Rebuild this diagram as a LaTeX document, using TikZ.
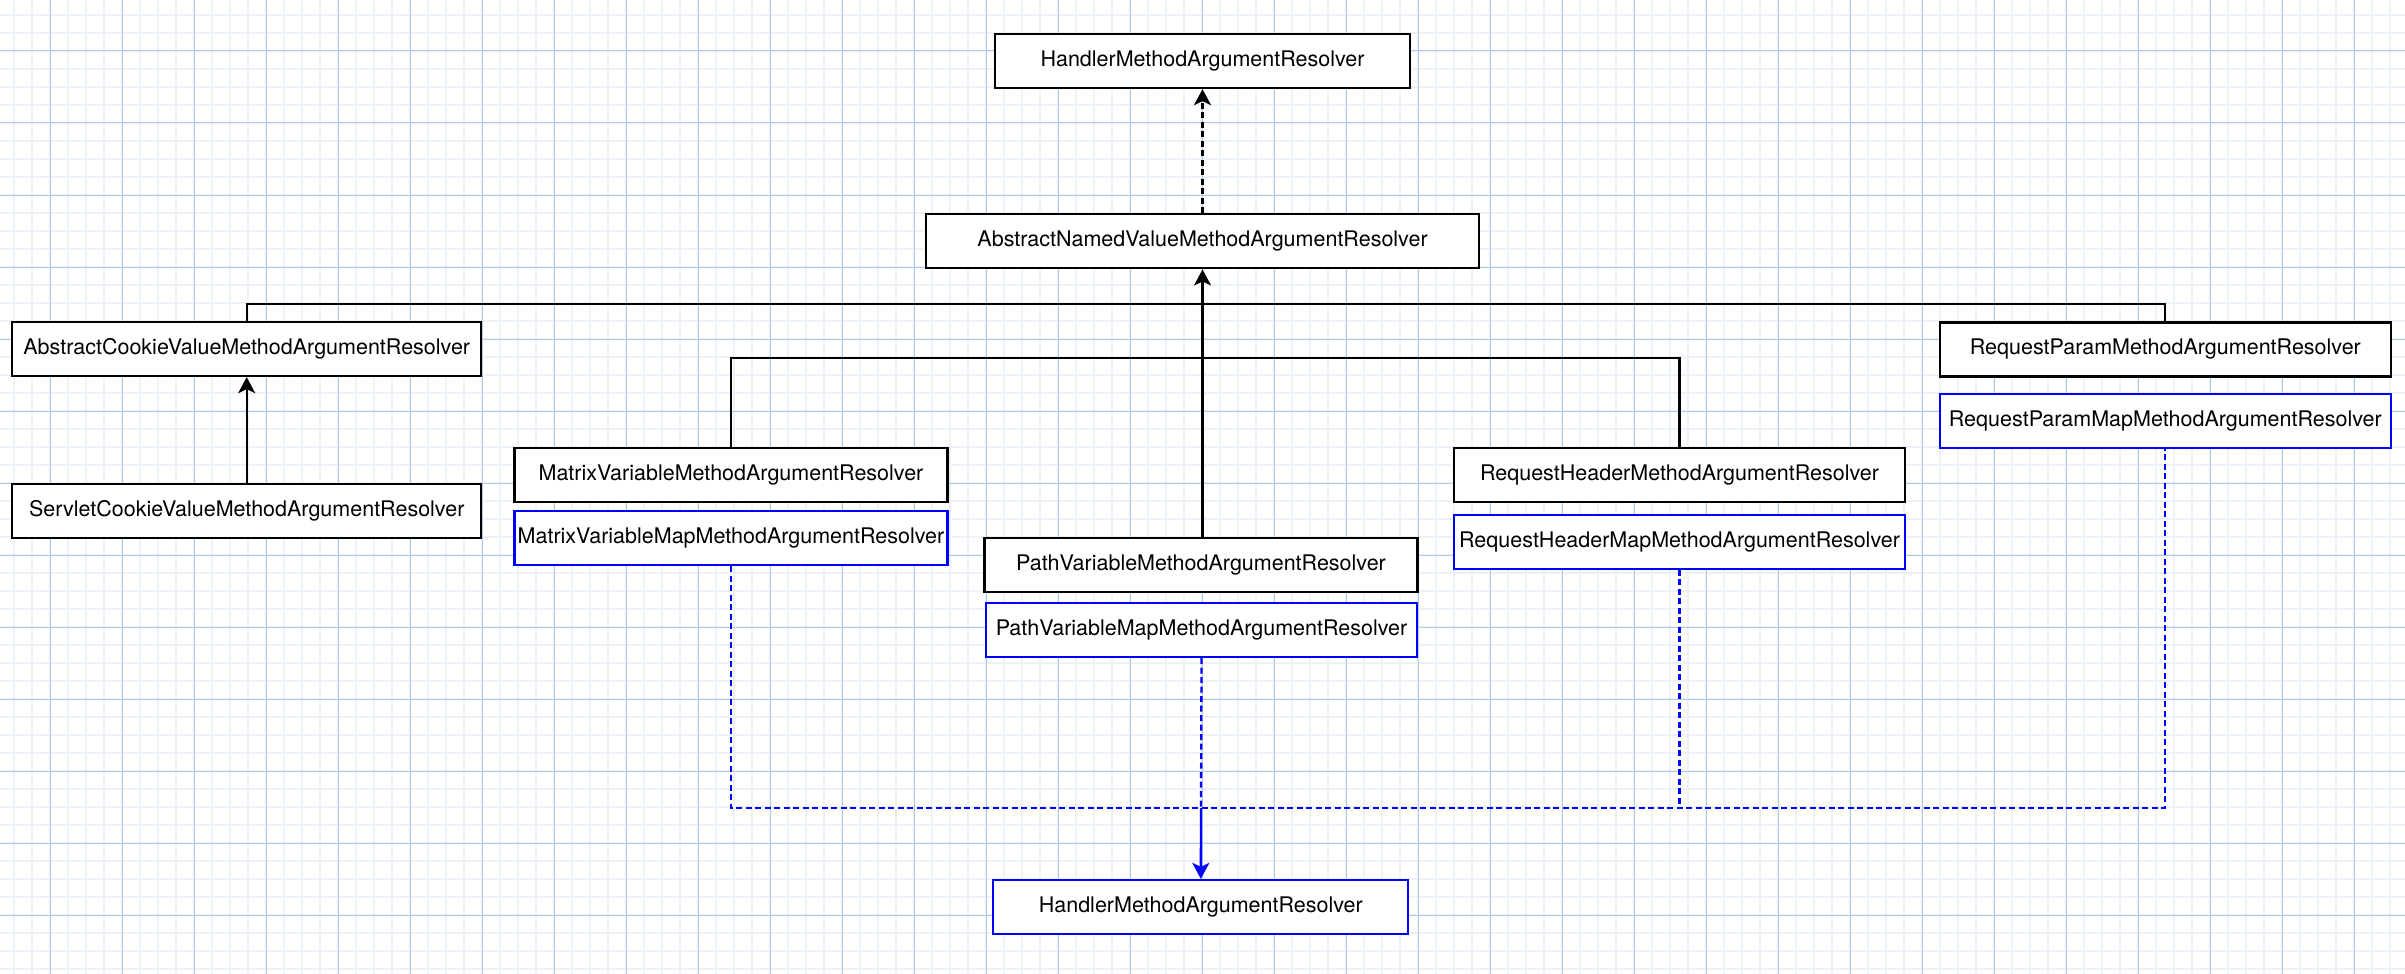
\documentclass[tikz,border=0pt]{standalone}
\usepackage{fontspec}
\setmainfont{TeX Gyre Heros}
\usetikzlibrary{arrows.meta}
\definecolor{gridmajor}{HTML}{B0C8EC}
\definecolor{gridminor}{HTML}{EDF2F9}
\definecolor{umlblue}{HTML}{0000FF}
\begin{document}
\begin{tikzpicture}[x=0.5pt,y=-0.5pt,
  box/.style={draw=black, line width=1.15pt, fill=white, inner sep=0pt, minimum height=27pt,
    font=\fontsize{10.75pt}{12pt}\selectfont, text=black},
  bbox/.style={box, draw=umlblue},
  conn/.style={line width=1.15pt, draw=black},
  bconn/.style={line width=1.15pt, draw=umlblue},
  tip/.style={-{Stealth[length=8pt,width=8.5pt,inset=2pt]}},
  dsh/.style={dash pattern=on 3pt off 1.75pt}
]
% background and grid
\fill[white] (0,0) rectangle (2405,974);
\useasboundingbox (0,0) rectangle (2405,974);
\foreach \k in {0,...,133} {\draw[gridminor, line width=0.75pt] ({14+18*\k},0) -- ({14+18*\k},974);}
\foreach \k in {0,...,53} {\draw[gridminor, line width=0.75pt] (0,{15+18*\k}) -- (2405,{15+18*\k});}
\foreach \k in {0,...,32} {\draw[gridmajor, line width=0.5pt] ({50+72*\k},0) -- ({50+72*\k},974);}
\foreach \k in {0,...,12} {\draw[gridmajor, line width=0.5pt] (0,{51+72*\k}) -- (2405,{51+72*\k});}

% nodes
\node[box, minimum width=207.5pt] (HT) at (1202.5,61) {HandlerMethodArgumentResolver};
\node[box, minimum width=276.5pt] (AN) at (1202.5,241.3) {AbstractNamedValueMethodArgumentResolver};
\node[box, minimum width=234.4pt] (AC) at (246.7,349) {AbstractCookieValueMethodArgumentResolver};
\node[box, minimum width=234.4pt] (SC) at (246.7,511.3) {ServletCookieValueMethodArgumentResolver};
\node[box, minimum width=216.4pt] (MV) at (731,475) {MatrixVariableMethodArgumentResolver};
\node[bbox, minimum width=216.4pt] (MM) at (731,538.3) {MatrixVariableMapMethodArgumentResolver};
\node[box, minimum width=216.4pt] (PV) at (1201,565) {PathVariableMethodArgumentResolver};
\node[bbox, minimum width=215.7pt] (PM) at (1201.5,630) {PathVariableMapMethodArgumentResolver};
\node[box, minimum width=225.2pt] (RH) at (1679.5,475.2) {RequestHeaderMethodArgumentResolver};
\node[bbox, minimum width=225.2pt] (RHM) at (1679.5,541.7) {RequestHeaderMapMethodArgumentResolver};
\node[box, minimum width=225.4pt] (RP) at (2165.3,349.4) {RequestParamMethodArgumentResolver};
\node[bbox, minimum width=225.4pt] (RPM) at (2165.3,421.3) {RequestParamMapMethodArgumentResolver};
\node[bbox, minimum width=207.5pt] (HB) at (1200.8,907) {HandlerMethodArgumentResolver};

% junctions
\coordinate (jt) at (1202.5,304);
\coordinate (jm) at (1202.5,358);
\coordinate (jb) at (1201,808);

% connectors
\draw[conn,dsh,tip] (AN.north) -- (HT.south);
\draw[conn] (AC.north) |- (jt) -| (RP.north);
\draw[conn] (MV.north) |- (jm) -| (RH.north);
\draw[conn,tip] (AN.south |- PV.north) -- (AN.south);
\draw[conn,tip] (SC.north) -- (AC.south);
\draw[bconn,dsh] (MM.south) |- (jb) -| (RPM.south);
\draw[bconn,dsh] (RHM.south) -- (RHM.south |- jb);
\draw[bconn,dsh] (PM.south) -- (jb);
\draw[bconn,tip] (jb) -- (HB.north);
\end{tikzpicture}
\end{document}
